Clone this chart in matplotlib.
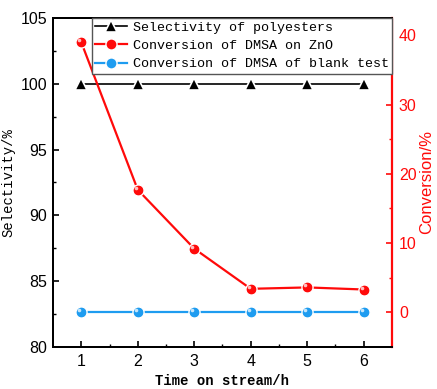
#!/usr/bin/env python3
"""Selectivity / conversion vs time on stream, twin y axes."""
import matplotlib

matplotlib.use("Agg")
import matplotlib.pyplot as plt
import matplotlib.transforms as mtransforms
from matplotlib.lines import Line2D


# Data.
hours = [1, 2, 3, 4, 5, 6]
selectivity = [100, 100, 100, 100, 100, 100]          # left axis, %
conv_zno = [39.0, 17.7, 9.2, 3.4, 3.6, 3.3]            # right axis, %
conv_blank = [0, 0, 0, 0, 0, 0]                        # right axis, %

labels = [
    "Selectivity of polyesters",
    "Conversion of DMSA on ZnO",
    "Conversion of DMSA of blank test",
]

RED = "#ff0a0a"
BLUE = "#1e9cf0"
MONO = "Liberation Mono"
SANS = "Liberation Sans"

plt.rcParams.update({
    "font.family": SANS,
    "xtick.direction": "in",
    "ytick.direction": "in",
    "axes.linewidth": 1.4,
})


def ball(ax, x, y, color, size=8.0):
    """Origin-style shaded ball marker: solid disc plus a small highlight."""
    ax.plot(x, y, "o", color=color, markersize=size, markeredgecolor="white",
            markeredgewidth=1.0, zorder=4)
    ax.plot(x, y, "o", color=color, markersize=size - 1.6, markeredgewidth=0,
            zorder=5)
    hl = mtransforms.offset_copy(ax.transData, fig=ax.figure, x=-1.4, y=1.4,
                                 units="points")
    ax.plot(x, y, "o", color="white", alpha=0.75, markersize=2.6,
            markeredgewidth=0, transform=hl, zorder=6)


fig = plt.figure(figsize=(4.37, 3.89), dpi=100)
ax = fig.add_axes([0.1213, 0.108, 0.7757, 0.8457])
ax2 = ax.twinx()

# left axis: selectivity
ax.plot(hours, selectivity, color="black", linewidth=1.2, zorder=2)
ax.plot(hours, selectivity, "^", color="black", markersize=9,
        markeredgecolor="white", markeredgewidth=1.2, zorder=3)
ax.set_xlim(0.5, 6.5)
ax.set_ylim(80, 105)
ax.set_xticks(hours)
ax.set_xticks([1.5, 2.5, 3.5, 4.5, 5.5], minor=True)
ax.set_yticks([80, 85, 90, 95, 100, 105])
ax.set_yticks([82.5, 87.5, 92.5, 97.5, 102.5], minor=True)
ax.tick_params(axis="both", which="major", length=4, width=1.2,
               labelsize=11.5, pad=4)
ax.tick_params(axis="both", which="minor", length=2.5, width=1.0)
ax.tick_params(axis="x", pad=5)
ax.set_ylabel("Selectivity/%", family=MONO, fontsize=10, labelpad=4)
ax.set_xlabel("Time on stream/h", family=MONO, fontsize=10,
              fontweight="bold", labelpad=4)

# right axis: conversion
ax2.plot(hours, conv_zno, color=RED, linewidth=1.6, zorder=2)
ball(ax2, hours, conv_zno, RED)
ax2.plot(hours, conv_blank, color=BLUE, linewidth=1.6, zorder=2)
ball(ax2, hours, conv_blank, BLUE)
ax2.set_ylim(-5, 42.5)
ax2.set_yticks([0, 10, 20, 30, 40])
ax2.set_yticks([5, 15, 25, 35], minor=True)
ax2.tick_params(axis="y", which="major", length=4, width=1.2, colors=RED,
                labelsize=11.5, pad=5)
ax2.tick_params(axis="y", which="minor", length=2.5, width=1.0, colors=RED)
ax2.spines["right"].set_color(RED)
ax2.spines["right"].set_linewidth(1.6)
ax2.set_ylabel("Conversion/%", color=RED, fontsize=12, labelpad=2)

handles = [
    Line2D([0], [0], color="black", linewidth=1.2, marker="^", markersize=9,
           markeredgecolor="white", markeredgewidth=1.2),
    Line2D([0], [0], color=RED, linewidth=1.6, marker="o", markersize=8,
           markeredgecolor="white", markeredgewidth=1.0),
    Line2D([0], [0], color=BLUE, linewidth=1.6, marker="o", markersize=8,
           markeredgecolor="white", markeredgewidth=1.0),
]
leg = ax2.legend(handles, labels, loc="upper right", borderaxespad=0,
                 prop={"family": MONO, "size": 9.6}, fancybox=False,
                 framealpha=1, edgecolor="#555555", handlelength=2.4,
                 handletextpad=0.4, labelspacing=0.45, borderpad=0.25)
leg.get_frame().set_linewidth(1.0)

fig.savefig("out.png", dpi=100)
